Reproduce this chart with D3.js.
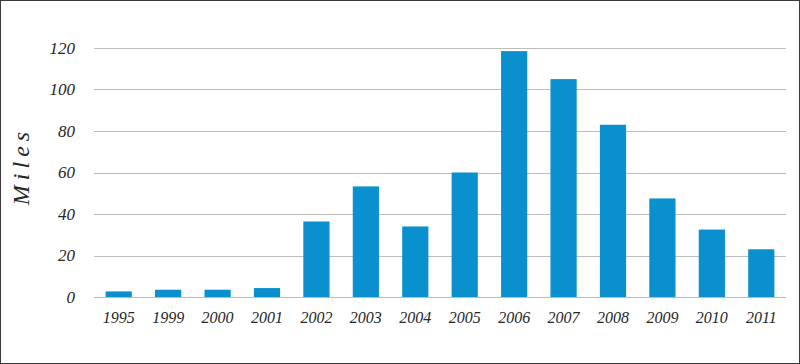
<!DOCTYPE html>
<html>
<head>
<meta charset="utf-8">
<script src="https://cdn.jsdelivr.net/npm/d3@7"></script>
<style>
  body { margin: 0; background: #fff; }
  svg { display: block; }
  text { font-family: "Liberation Serif", "DejaVu Serif", serif; font-style: italic; }
</style>
</head>
<body>
<script>
// chart data
var years = ["1995", "1999", "2000", "2001", "2002", "2003", "2004",
             "2005", "2006", "2007", "2008", "2009", "2010", "2011"];
var miles = [2.7, 3.5, 3.5, 4.3, 36.4, 53.3, 34, 60, 118.5, 105, 83, 47.5, 32.5, 23];
var yTicks = [0, 20, 40, 60, 80, 100, 120];

var W = 800, H = 364;
var margin = {top: 48, right: 14, bottom: 67, left: 94},
    width = W - margin.left - margin.right,
    height = H - margin.top - margin.bottom;

var svg = d3.select("body").append("svg")
    .attr("width", W)
    .attr("height", H);

// outer frame
svg.append("rect")
    .attr("x", 0.5).attr("y", 0.5)
    .attr("width", W - 1).attr("height", H - 1)
    .attr("fill", "#fff")
    .attr("stroke", "#3a3a3a");

var g = svg.append("g")
    .attr("transform", "translate(" + margin.left + "," + margin.top + ")");

var x = d3.scaleBand().domain(years).range([0, width]).paddingInner(0.47).paddingOuter(0.235);
var y = d3.scaleLinear().domain([0, 120]).range([height, 0]);

// gridlines
g.selectAll("line.grid")
    .data(yTicks)
  .enter().append("line")
    .attr("class", "grid")
    .attr("x1", 0).attr("x2", width)
    .attr("y1", function(d) { return Math.round(y(d)) + 0.5; })
    .attr("y2", function(d) { return Math.round(y(d)) + 0.5; })
    .attr("stroke", "#bdbdbd")
    .attr("stroke-width", 1.2);

// bars
g.selectAll("rect.bar")
    .data(miles)
  .enter().append("rect")
    .attr("class", "bar")
    .attr("x", function(d, i) { return x(years[i]); })
    .attr("width", x.bandwidth())
    .attr("y", function(d) { return y(d); })
    .attr("height", function(d) { return height - y(d); })
    .attr("fill", "#0a8fcf");

// y tick labels
g.selectAll("text.ytick")
    .data(yTicks)
  .enter().append("text")
    .attr("class", "ytick")
    .attr("x", -19)
    .attr("y", function(d) { return y(d); })
    .attr("dy", "0.35em")
    .attr("text-anchor", "end")
    .attr("font-size", 17)
    .attr("fill", "#262626")
    .text(function(d) { return d; });

// x tick labels
g.selectAll("text.xtick")
    .data(years)
  .enter().append("text")
    .attr("class", "xtick")
    .attr("x", function(d) { return x(d) + x.bandwidth() / 2; })
    .attr("y", height + 26)
    .attr("text-anchor", "middle")
    .attr("font-size", 16)
    .attr("fill", "#262626")
    .text(function(d) { return d; });

// y axis title
svg.append("text")
    .attr("transform", "translate(29,166) rotate(-90)")
    .attr("text-anchor", "middle")
    .attr("font-size", 24)
    .style("letter-spacing", "5px")
    .attr("fill", "#262626")
    .text("Miles");
</script>
</body>
</html>
